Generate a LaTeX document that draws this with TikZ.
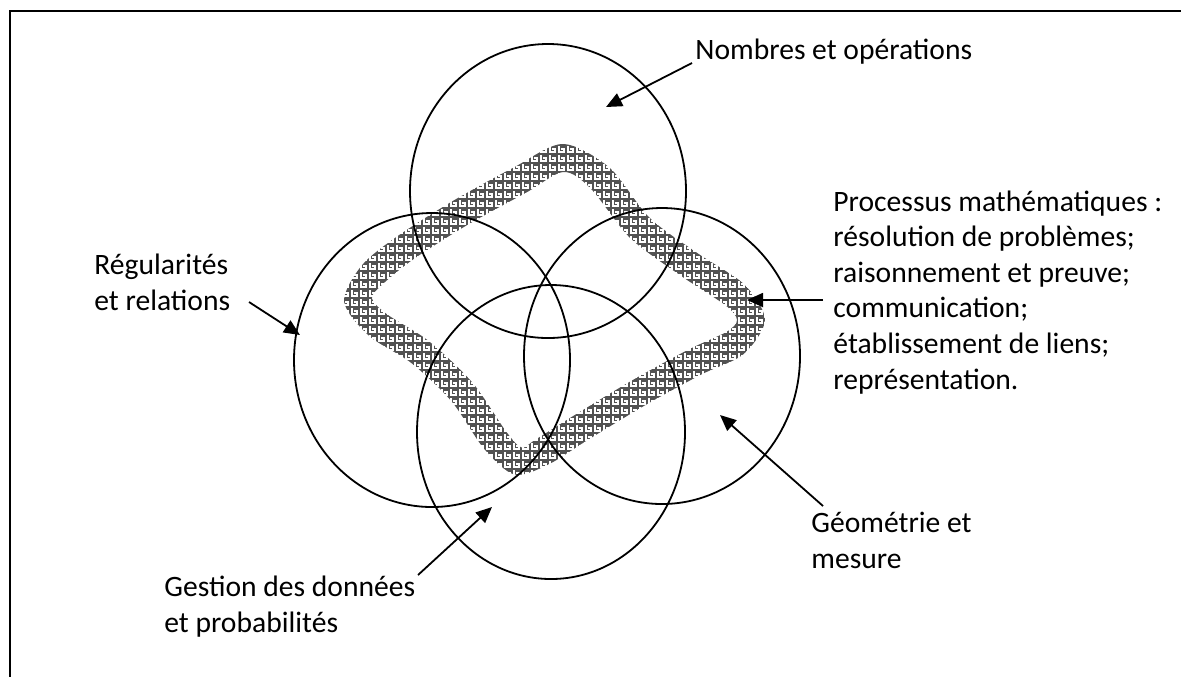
\documentclass[tikz,border=0pt]{standalone}
\usepackage{fontspec}
\setmainfont{Carlito}
\usetikzlibrary{calc,patterns,arrows.meta}

\pgfdeclarepatternformonly{keyweave}{\pgfqpoint{-0.3pt}{-0.3pt}}{\pgfqpoint{4.8pt}{4.8pt}}{\pgfqpoint{4.5pt}{4.5pt}}{%
  \pgfsetlinewidth{0.52pt}%
  \pgfpathmoveto{\pgfqpoint{0pt}{0.5pt}}%
  \pgfpathlineto{\pgfqpoint{4pt}{0.5pt}}%
  \pgfpathlineto{\pgfqpoint{4pt}{4pt}}%
  \pgfpathlineto{\pgfqpoint{1.4pt}{4pt}}%
  \pgfpathlineto{\pgfqpoint{1.4pt}{2.3pt}}%
  \pgfpathlineto{\pgfqpoint{2.7pt}{2.3pt}}%
  \pgfusepath{stroke}%
}

\tikzset{
  ring/.style={line width=0.9pt},
  arr/.style={line width=0.9pt, -{Triangle[length=8pt,width=7pt]}},
  lbl/.style={font=\fontsize{14.8}{17.8}\selectfont, inner sep=0pt, align=left},
  frame/.style={line width=1pt}
}

\begin{document}
\begin{tikzpicture}[x=0.5pt,y=-0.5pt]
\useasboundingbox (0,0) rectangle (1181,677);

% frame (top and left only)
\draw[frame] (1181,10.5) -- (9.5,10.5) -- (9.5,677);

% band centre line
\coordinate (C1) at (563,158);
\coordinate (C2) at (600,178);
\coordinate (C3) at (640,228);
\coordinate (C4) at (690,265);
\coordinate (C5) at (735,295);
\coordinate (C6) at (751,320);
\coordinate (C7) at (735,343);
\coordinate (C8) at (695,362);
\coordinate (C9) at (640,392);
\coordinate (C10) at (582,427);
\coordinate (C11) at (542,452);
\coordinate (C12) at (518,461);
\coordinate (C13) at (495,440);
\coordinate (C14) at (462,392);
\coordinate (C15) at (420,352);
\coordinate (C16) at (378,325);
\coordinate (C17) at (358,300);
\coordinate (C18) at (372,275);
\coordinate (C19) at (405,248);
\coordinate (C20) at (460,213);
\coordinate (C21) at (520,180);

\foreach \i in {1,...,21}{
  \pgfmathtruncatemacro\ia{mod(\i+19,21)+1}
  \pgfmathtruncatemacro\ib{mod(\i,21)+1}
  \path let \p1=($(C\ib)-(C\ia)$), \n1={atan2(\y1,\x1)} in
    ($(C\i)+(\n1+90:7pt)$) coordinate (A\i)
    ($(C\i)+(\n1-90:7pt)$) coordinate (B\i);
}

\def\bandpath{plot[smooth cycle] coordinates {(A1) (A2) (A3) (A4) (A5) (A6) (A7) (A8) (A9) (A10) (A11) (A12) (A13) (A14) (A15) (A16) (A17) (A18) (A19) (A20) (A21)}
  plot[smooth cycle] coordinates {(B1) (B2) (B3) (B4) (B5) (B6) (B7) (B8) (B9) (B10) (B11) (B12) (B13) (B14) (B15) (B16) (B17) (B18) (B19) (B20) (B21)}}
\fill[white, even odd rule] \bandpath;
\fill[pattern=keyweave, pattern color=black!68, even odd rule] \bandpath;

% four domains
\draw[ring] (548,191) ellipse [x radius=69pt, y radius=73.5pt];
\draw[ring] (432,360) ellipse [x radius=69pt, y radius=73.5pt];
\draw[ring] (662,356) ellipse [x radius=69pt, y radius=74pt];
\draw[ring] (551,432) ellipse [x radius=67pt, y radius=73.5pt];

% labels (base = baseline of last line)
\node[lbl, anchor=base west] (nomb) at (695,59) {Nombres et opérations};
\node[lbl, anchor=base west] (regu) at (94,310) {Régularités\\et relations};
\node[lbl, anchor=base west] (proc) at (833,389) {Processus mathématiques :\\résolution de problèmes;\\raisonnement et preuve;\\communication;\\établissement de liens;\\représentation.};
\node[lbl, anchor=base west] (geom) at (811,568) {Géométrie et\\mesure};
\node[lbl, anchor=base west] (gest) at (164,632) {Gestion des données\\et probabilités};

% arrow ends
\coordinate (nombS) at (692,63);   \coordinate (nombT) at (606,107);
\coordinate (reguS) at (249,302);  \coordinate (reguT) at (300,335);
\coordinate (procS) at (823,300);  \coordinate (procT) at (747,300);
\coordinate (geomS) at (823,506);  \coordinate (geomT) at (720,415);
\coordinate (gestS) at (418,575);  \coordinate (gestT) at (492,507);

\draw[arr] (nombS) -- (nombT);
\draw[arr] (reguS) -- (reguT);
\draw[arr] (procS) -- (procT);
\draw[arr] (geomS) -- (geomT);
\draw[arr] (gestS) -- (gestT);
\end{tikzpicture}
\end{document}
